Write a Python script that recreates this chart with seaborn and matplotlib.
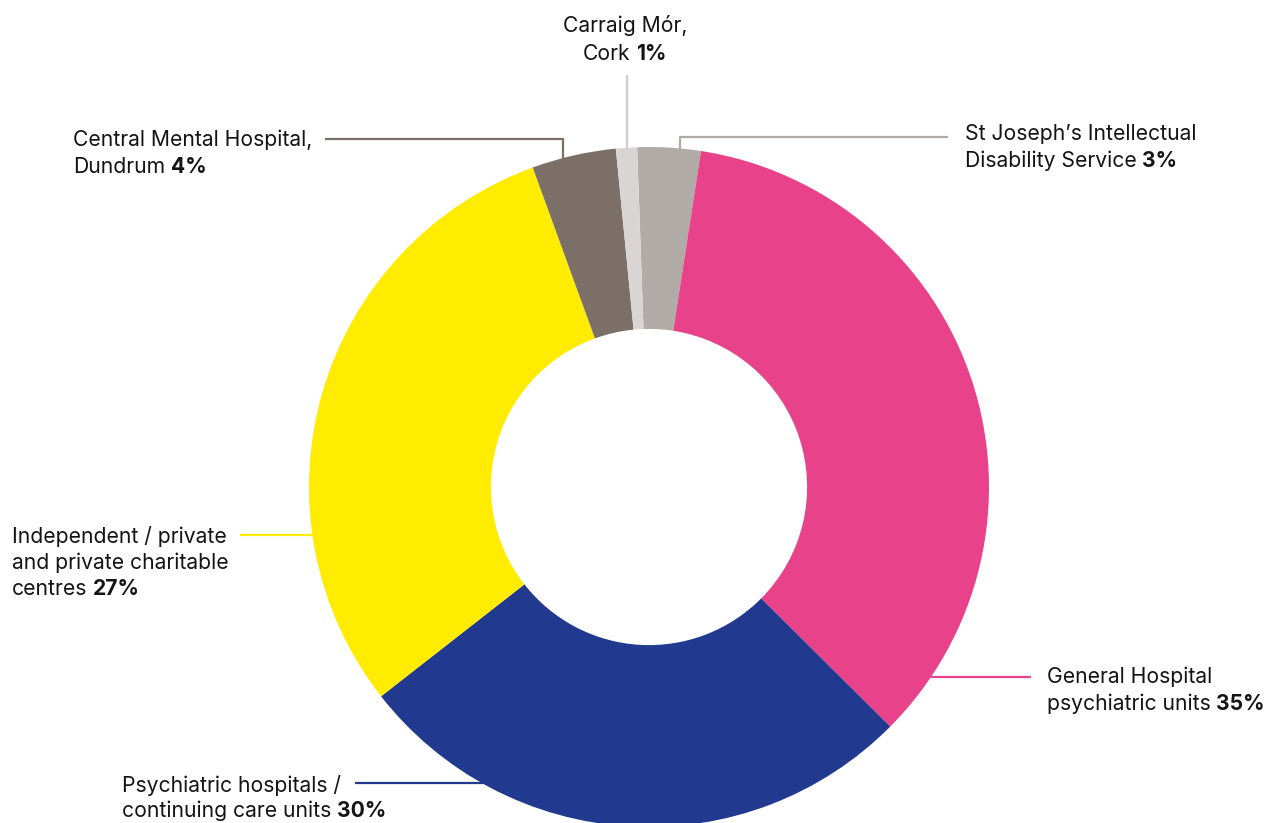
import matplotlib
matplotlib.use("Agg")
import matplotlib.pyplot as plt
import seaborn as sns

sns.set_theme(style="white")
plt.rcParams['font.family'] = ['Inter', 'DejaVu Sans']

# Data (slice sizes as drawn, clockwise from top)
categories = ["St Joseph's Intellectual Disability Service",
              "General Hospital psychiatric units",
              "Psychiatric hospitals / continuing care units",
              "Independent / private and private charitable centres",
              "Central Mental Hospital, Dundrum",
              "Carraig Mór, Cork"]
values = [3, 35, 27, 30, 4, 1]
label_pcts = ["3%", "35%", "30%", "27%", "4%", "1%"]
colors = ["#B0ABA6", "#E8428A", "#213A8F", "#FFEC00", "#7C6F68", "#D9D5D4"]

W, H = 1272, 823
fig = plt.figure(figsize=(W / 100, H / 100), dpi=100)
ax = fig.add_axes([0, 0, 1, 1])

cx, cy, R = 649, H - 487, 340
ax.pie(values, colors=colors, startangle=92, counterclock=False,
       center=(cx, cy), radius=R,
       wedgeprops=dict(width=R * 0.535, linewidth=0, antialiased=True))
ax.set_xlim(0, W)
ax.set_ylim(0, H)
ax.set_aspect('equal')
ax.axis('off')

def Y(py):
    return H - py

# leader lines
lw = 1.6
ax.plot([948, 680, 680], [Y(137), Y(137), Y(149)], color="#B0ABA6", lw=lw, solid_capstyle='butt')
ax.plot([931, 1031], [Y(677), Y(677)], color="#E8428A", lw=lw, solid_capstyle='butt')
ax.plot([355, 483], [Y(783), Y(783)], color="#213A8F", lw=lw, solid_capstyle='butt')
ax.plot([240, 313], [Y(535), Y(535)], color="#FFEC00", lw=lw, solid_capstyle='butt')
ax.plot([325, 563, 563], [Y(139), Y(139), Y(159)], color="#7C6F68", lw=lw, solid_capstyle='butt')
ax.plot([627, 627], [Y(75), Y(149)], color="#D0CCCB", lw=lw, solid_capstyle='butt')

FS = 15.2
TC = "#141414"
fig.canvas.draw()
renderer = fig.canvas.get_renderer()

def label(x, baselines, lines, pct, ha='left'):
    # lines: list of strings; last line gets bold pct appended
    for i, (b, s) in enumerate(zip(baselines, lines)):
        last = i == len(lines) - 1
        if not last:
            ax.text(x, Y(b), s, fontsize=FS, color=TC, ha=ha, va='baseline')
        else:
            t1 = ax.text(0, Y(b), s, fontsize=FS, color=TC, ha='left', va='baseline')
            t2 = ax.text(0, Y(b), pct, fontsize=FS, color=TC, ha='left', va='baseline', fontweight='bold')
            w1 = t1.get_window_extent(renderer).width
            w2 = t2.get_window_extent(renderer).width
            sp = FS * 0.27 * 100 / 72
            total = w1 + sp + w2
            x0 = x if ha == 'left' else x - total / 2
            t1.set_x(x0)
            t2.set_x(x0 + w1 + sp)

label(965, [140, 167], ["St Joseph\u2019s Intellectual", "Disability Service"], label_pcts[0])
label(1047, [683, 710], ["General Hospital", "psychiatric units"], label_pcts[1])
label(122, [792, 817], ["Psychiatric hospitals /", "continuing care units"], label_pcts[2])
label(12, [543, 569, 595], ["Independent / private", "and private charitable", "centres"], label_pcts[3])
label(73, [146, 173], ["Central Mental Hospital,", "Dundrum"], label_pcts[4])
label(625, [32, 60], ["Carraig Mór,", "Cork"], label_pcts[5], ha='center')

fig.savefig("out.png", dpi=100)
